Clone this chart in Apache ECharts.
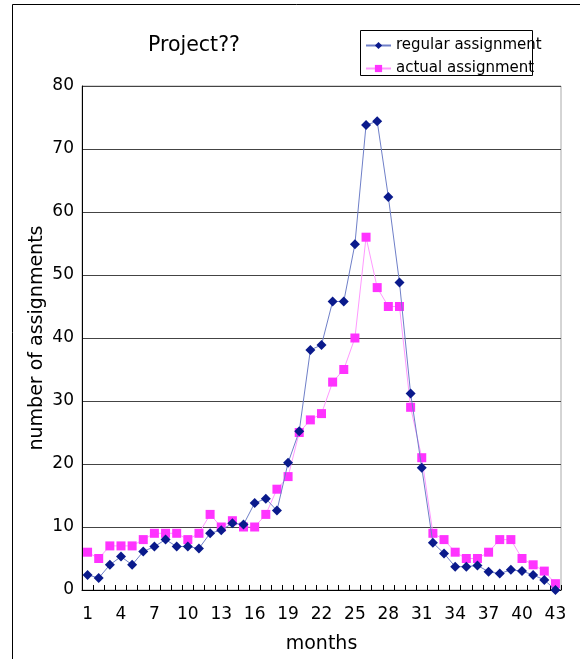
<!DOCTYPE html>
<html>
<head>
<meta charset="utf-8">
<script src="https://cdn.jsdelivr.net/npm/echarts@6/dist/echarts.min.js"></script>
<style>
  html, body { margin: 0; padding: 0; background: #fff; }
  #chart { width: 580px; height: 659px; }
</style>
</head>
<body>
<div id="chart"></div>
<script>
// Monthly assignment counts for the project
const months = Array.from({ length: 43 }, (_, i) => String(i + 1));
const regularAssignment = [
  2.4, 1.9, 4.0, 5.3, 4.0, 6.1, 6.9, 8.0, 6.9, 6.9,
  6.6, 9.0, 9.5, 10.6, 10.4, 13.8, 14.5, 12.6, 20.2, 25.2,
  38.1, 38.9, 45.8, 45.8, 54.9, 73.8, 74.4, 62.4, 48.8, 31.2,
  19.4, 7.5, 5.8, 3.7, 3.7, 3.9, 2.9, 2.6, 3.2, 3.0,
  2.4, 1.6, 0
];
const actualAssignment = [
  6, 5, 7, 7, 7, 8, 9, 9, 9, 8,
  9, 12, 10, 11, 10, 10, 12, 16, 18, 25,
  27, 28, 33, 35, 40, 56, 48, 45, 45, 29,
  21, 9, 8, 6, 5, 5, 6, 8, 8, 5,
  4, 3, 1
];
const yTicks = { min: 0, max: 80, step: 10 };

const font = '"DejaVu Sans", sans-serif';
const chart = echarts.init(document.getElementById('chart'));

chart.setOption({
  animation: false,
  backgroundColor: '#fff',
  textStyle: { fontFamily: font },
  title: {
    text: 'Project??',
    left: 148,
    top: 35,
    padding: 0,
    textStyle: { fontFamily: font, fontSize: 20.5, fontWeight: 'normal', color: '#000' }
  },
  graphic: [
    {
      // outer chart frame (left and top edges visible)
      type: 'rect',
      shape: { x: 12.5, y: 4.5, width: 700, height: 800 },
      style: { fill: null, stroke: '#000', lineWidth: 1 },
      silent: true
    },
    {
      // legend frame; the labels run past its right edge
      type: 'rect',
      shape: { x: 360.5, y: 30.5, width: 172, height: 45 },
      style: { fill: null, stroke: '#000', lineWidth: 1 },
      z: 10,
      silent: true
    }
  ],
  legend: {
    orient: 'vertical',
    left: 365,
    top: 38,
    padding: 0,
    itemGap: 8,
    itemWidth: 25,
    itemHeight: 9,
    textStyle: { fontFamily: font, fontSize: 15, color: '#000' },
    data: ['regular assignment', 'actual assignment']
  },
  grid: {
    left: 82,
    right: 19,
    top: 86,
    bottom: 68,
    show: true,
    borderColor: '#aaa',
    borderWidth: 1
  },
  xAxis: {
    type: 'category',
    data: months,
    boundaryGap: true,
    name: 'months',
    nameLocation: 'middle',
    nameGap: 45,
    nameMoveOverlap: false,
    nameTextStyle: { fontFamily: font, fontSize: 19, color: '#000' },
    axisLine: { lineStyle: { color: '#000', width: 1 } },
    axisTick: { show: true, inside: true, length: 5, interval: 0, lineStyle: { color: '#000' } },
    axisLabel: { interval: 2, margin: 16, fontFamily: font, fontSize: 17, color: '#000' },
    splitLine: { show: false }
  },
  yAxis: {
    type: 'value',
    min: yTicks.min,
    max: yTicks.max,
    interval: yTicks.step,
    name: 'number of assignments',
    nameLocation: 'middle',
    nameGap: 35,
    nameMoveOverlap: false,
    nameTextStyle: { fontFamily: font, fontSize: 19, color: '#000' },
    axisLine: { show: true, lineStyle: { color: '#000', width: 1 } },
    axisTick: { show: false },
    axisLabel: { margin: 8, fontFamily: font, fontSize: 17, color: '#000' },
    splitLine: { show: true, lineStyle: { color: '#444', width: 1 } }
  },
  series: [
    {
      name: 'regular assignment',
      type: 'line',
      data: regularAssignment,
      symbol: 'diamond',
      symbolSize: 10,
      showAllSymbol: true,
      clip: false,
      z: 3,
      itemStyle: { color: '#0a1a8c' },
      lineStyle: { color: '#6f7fc8', width: 1 }
    },
    {
      name: 'actual assignment',
      type: 'line',
      data: actualAssignment,
      symbol: 'rect',
      symbolSize: 9,
      showAllSymbol: true,
      clip: false,
      z: 2,
      itemStyle: { color: '#ff33ff' },
      lineStyle: { color: '#ff99ff', width: 1 }
    }
  ]
});
</script>
</body>
</html>
